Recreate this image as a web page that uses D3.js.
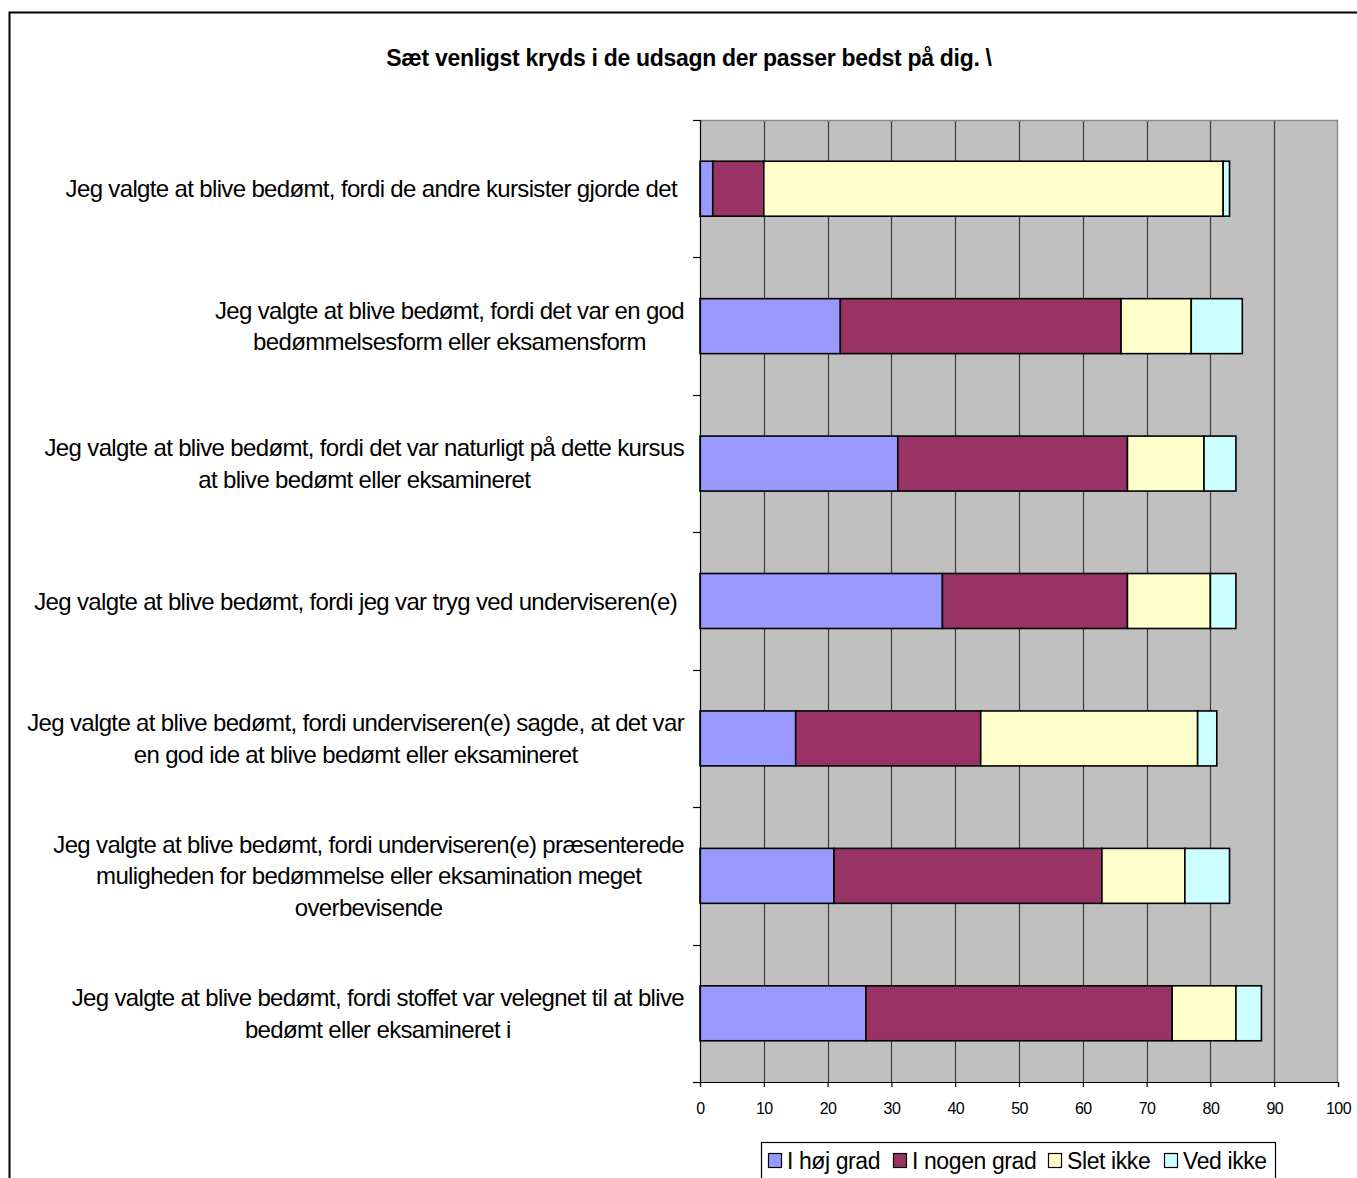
<!DOCTYPE html>
<html>
<head>
<meta charset="utf-8">
<script src="https://cdn.jsdelivr.net/npm/d3@7/dist/d3.min.js"></script>
<style>
  html, body { margin: 0; padding: 0; background: #fff; }
  svg { display: block; font-family: "Liberation Sans", Arial, sans-serif; }
</style>
</head>
<body>
<svg id="chart" width="1357" height="1178"></svg>
<script>
// Survey statements (each entry holds the wrapped lines of the label)
const categories = [
  ["Jeg valgte at blive bedømt, fordi de andre kursister gjorde det"],
  ["Jeg valgte at blive bedømt, fordi det var en god", "bedømmelsesform eller eksamensform"],
  ["Jeg valgte at blive bedømt, fordi det var naturligt på dette kursus", "at blive bedømt eller eksamineret"],
  ["Jeg valgte at blive bedømt, fordi jeg var tryg ved underviseren(e)"],
  ["Jeg valgte at blive bedømt, fordi underviseren(e) sagde, at det var", "en god ide at blive bedømt eller eksamineret"],
  ["Jeg valgte at blive bedømt, fordi underviseren(e) præsenterede", "muligheden for bedømmelse eller eksamination meget", "overbevisende"],
  ["Jeg valgte at blive bedømt, fordi stoffet var velegnet til at blive", "bedømt eller eksamineret i"]
];

const seriesNames = ["I høj grad", "I nogen grad", "Slet ikke", "Ved ikke"];
const hoejGrad   = [2, 22, 31, 38, 15, 21, 26];
const nogenGrad  = [8, 44, 36, 29, 29, 42, 48];
const sletIkke   = [72, 11, 12, 13, 34, 13, 10];
const vedIkke    = [1, 8, 5, 4, 3, 7, 4];
const xTicks = [0, 10, 20, 30, 40, 50, 60, 70, 80, 90, 100];
const titleText = "Sæt venligst kryds i de udsagn der passer bedst på dig. \\";

const colors = ["#9999ff", "#993366", "#ffffcc", "#ccffff"];

const svg = d3.select("#chart");

// Outer chart frame
svg.append("rect")
  .attr("x", 9.5).attr("y", 12.5)
  .attr("width", 1400).attr("height", 1300)
  .attr("fill", "#fff").attr("stroke", "#000").attr("stroke-width", 2);

// Title
svg.append("text")
  .attr("x", 689).attr("y", 66)
  .attr("text-anchor", "middle")
  .attr("font-size", 23).attr("font-weight", "bold")
  .attr("letter-spacing", -0.3)
  .text(titleText);

const plot = { left: 700, right: 1338, top: 120, bottom: 1082 };

const x = d3.scaleLinear().domain([0, 100]).range([plot.left, plot.right]);
const y = d3.scaleBand()
  .domain(d3.range(categories.length))
  .range([plot.top, plot.bottom])
  .paddingInner(0.6).paddingOuter(0.3);

// Plot background
svg.append("rect")
  .attr("x", plot.left).attr("y", plot.top)
  .attr("width", plot.right - plot.left).attr("height", plot.bottom - plot.top)
  .attr("fill", "#c0c0c0");

// Vertical gridlines
svg.append("g")
  .selectAll("line")
  .data(xTicks.slice(1, -1))
  .join("line")
  .attr("x1", d => Math.round(x(d)) + 0.5).attr("x2", d => Math.round(x(d)) + 0.5)
  .attr("y1", plot.top).attr("y2", plot.bottom)
  .attr("stroke", "#3a3a3a").attr("stroke-width", 1.2);

// Plot border (top and right)
svg.append("path")
  .attr("d", `M${plot.left},${plot.top + 0.5}H${plot.right - 0.5}V${plot.bottom}`)
  .attr("fill", "none").attr("stroke", "#8c8c8c").attr("stroke-width", 1.5);

// Stacked bars
const table = categories.map((c, i) => ({
  i,
  "I høj grad": hoejGrad[i],
  "I nogen grad": nogenGrad[i],
  "Slet ikke": sletIkke[i],
  "Ved ikke": vedIkke[i]
}));
const stacked = d3.stack().keys(seriesNames)(table);

svg.append("g")
  .selectAll("g")
  .data(stacked)
  .join("g")
  .attr("fill", (d, k) => colors[k])
  .selectAll("rect")
  .data(d => d)
  .join("rect")
  .attr("x", d => x(d[0]))
  .attr("width", d => x(d[1]) - x(d[0]))
  .attr("y", d => y(d.data.i))
  .attr("height", y.bandwidth())
  .attr("stroke", "#000").attr("stroke-width", 1.6);

// Category axis line with ticks at band boundaries
const bounds = d3.range(categories.length + 1).map(k => plot.top + k * (plot.bottom - plot.top) / categories.length);
const yAxis = svg.append("g");
yAxis.append("line")
  .attr("x1", plot.left + 0.5).attr("x2", plot.left + 0.5)
  .attr("y1", plot.top).attr("y2", plot.bottom)
  .attr("stroke", "#000").attr("stroke-width", 1.2);
yAxis.selectAll("line.tick")
  .data(bounds)
  .join("line").attr("class", "tick")
  .attr("x1", plot.left - 7).attr("x2", plot.left)
  .attr("y1", d => Math.round(d) + 0.5).attr("y2", d => Math.round(d) + 0.5)
  .attr("stroke", "#000").attr("stroke-width", 1.2);

// Value axis
const xAxis = svg.append("g")
  .attr("transform", `translate(0,${plot.bottom})`)
  .call(d3.axisBottom(x).tickValues(xTicks).tickSize(5).tickPadding(16).tickFormat(d3.format("d")));
xAxis.select(".domain").attr("stroke", "#000").attr("stroke-width", 1.2);
xAxis.selectAll(".tick line").attr("stroke", "#000").attr("stroke-width", 1.2);
xAxis.selectAll(".tick text")
  .attr("font-size", 16).attr("font-family", "'Liberation Sans', Arial, sans-serif")
  .attr("letter-spacing", -0.6)
  .attr("fill", "#000");

// Category labels: lines centred on each other, block right-aligned to the axis
const labels = svg.append("g")
  .attr("font-size", 24).attr("letter-spacing", -0.65).attr("fill", "#000");
categories.forEach((lines, i) => {
  const g = labels.append("g");
  const lineH = 31.5;
  const cy = y(i) + y.bandwidth() / 2;
  const texts = lines.map((ln, j) => g.append("text")
    .attr("y", cy + (j - (lines.length - 1) / 2) * lineH + 8.5)
    .attr("text-anchor", "middle")
    .text(ln));
  const w = d3.max(texts, t => t.node().getComputedTextLength());
  const right = lines.length > 1 ? 684 : 677;
  texts.forEach(t => t.attr("x", right - w / 2));
});

// Legend
const legend = svg.append("g");
legend.append("rect")
  .attr("x", 761.5).attr("y", 1142.5)
  .attr("width", 514).attr("height", 60)
  .attr("fill", "#fff").attr("stroke", "#000").attr("stroke-width", 1.2);
const legendX = [768, 893, 1048, 1164];
seriesNames.forEach((name, k) => {
  legend.append("rect")
    .attr("x", legendX[k] + 0.5).attr("y", 1153.5)
    .attr("width", 13).attr("height", 14)
    .attr("fill", colors[k]).attr("stroke", "#000").attr("stroke-width", 1.2);
  legend.append("text")
    .attr("x", legendX[k] + 19).attr("y", 1169)
    .attr("font-size", 23).attr("letter-spacing", -0.4)
    .text(name);
});
</script>
</body>
</html>
